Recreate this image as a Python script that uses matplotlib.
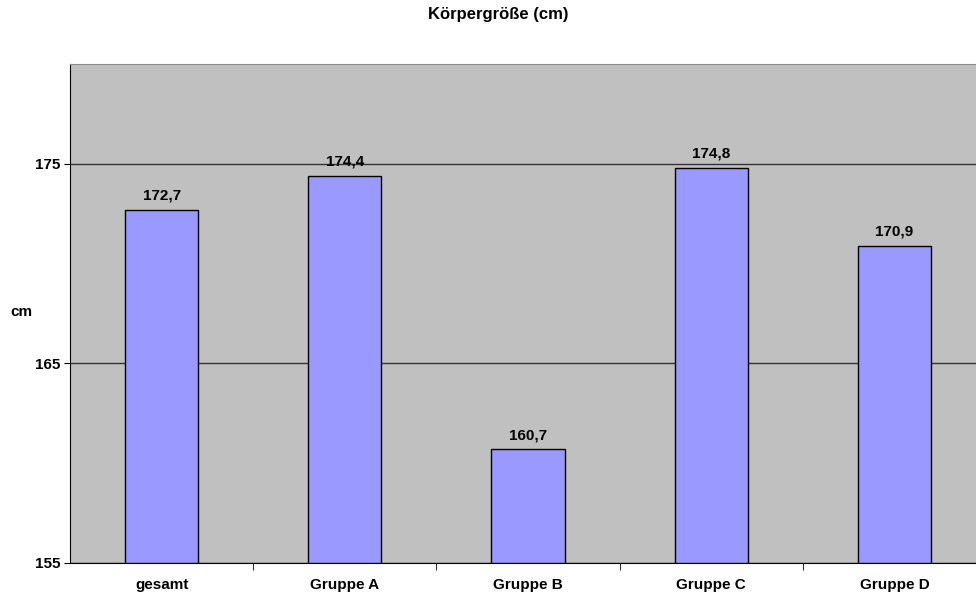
import matplotlib.pyplot as plt

categories = ["gesamt", "Gruppe A", "Gruppe B", "Gruppe C", "Gruppe D"]
heights = [172.7, 174.4, 160.7, 174.8, 170.9]
y_ticks = [155, 165, 175]

plt.rcParams['font.family'] = ['Liberation Sans', 'DejaVu Sans']
plt.rcParams['font.size'] = 11
plt.rcParams['font.weight'] = 'bold'

fig = plt.figure(figsize=(9.76, 5.94), dpi=100)
W, H = 976, 594
# plot area runs a little past the right edge of the figure
ax = fig.add_axes([70 / W, (H - 563) / H, 916 / W, (563 - 64) / H])
ax.set_facecolor('#C0C0C0')

x = range(len(categories))
ax.bar(x, [h - 155 for h in heights], bottom=155, width=0.40,
       color='#9999FF', edgecolor='black', linewidth=1, zorder=3)

for xi, h in zip(x, heights):
    ax.text(xi, h + 0.5, f"{h:.1f}".replace('.', ','), ha='center', va='baseline',
            fontsize=11, fontweight='bold', zorder=4)

ax.set_xlim(-0.5, len(categories) - 0.5)
ax.set_ylim(155, 180)
ax.set_yticks(y_ticks)
ax.set_yticklabels([str(t) for t in y_ticks], fontweight='bold')
ax.yaxis.grid(True, color='#333333', linewidth=1)
ax.set_axisbelow(True)

# category labels between boundary ticks
ax.set_xticks([i + 0.5 for i in range(len(categories) - 1)])
ax.set_xticklabels([])
ax.set_xticks(list(x), minor=True)
ax.set_xticklabels(categories, minor=True, fontweight='bold')
ax.tick_params(axis='x', which='minor', length=0, pad=11)
ax.tick_params(axis='x', which='major', length=5, direction='out', color='#333333')
ax.tick_params(axis='y', length=4, direction='out', pad=3)

for side in ['top', 'right']:
    ax.spines[side].set_color('#8c8c8c')
ax.spines['left'].set_color('black')
ax.spines['bottom'].set_color('black')

fig.text(21 / W, 1 - 312 / H, "cm", ha='center', va='center', fontsize=11, fontweight='bold')
fig.text(498 / W, 1 - 15 / H, "Körpergröße (cm)", ha='center', va='center',
         fontsize=12, fontweight='bold')

fig.savefig("out.png", dpi=100)
